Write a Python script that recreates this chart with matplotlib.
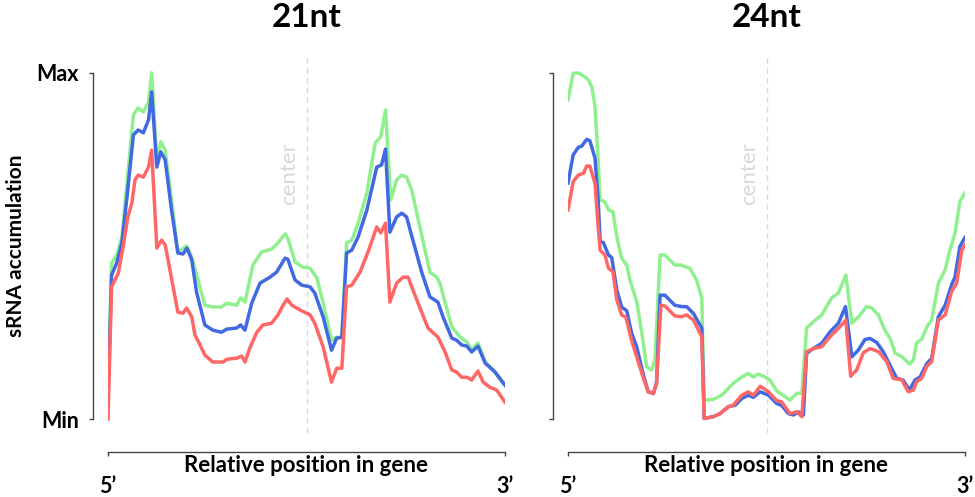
import numpy as np
import matplotlib
matplotlib.use('Agg')
import matplotlib.pyplot as plt

plt.rcParams['font.family'] = ['Lato', 'DejaVu Sans']

# ---- 21nt panel (position in gene %, scaled accumulation 0=Min 100=Max) ----
x21_green = [0, 0.9, 2.2, 3.5, 6.4, 7.6, 8.9, 10.2, 11.0, 12.3, 13.3, 14.4, 16.0, 17.6, 19.8, 21.1,
             22.7, 24.4, 26.4, 28.6, 29.9, 32.4, 33.4, 34.5, 36.5, 38.7, 41.2, 42.8, 44.6, 45.3, 47.1,
             49.1, 50.9, 52.6, 54.2, 56.3, 57.6, 58.9, 60.1, 61.4, 63.0, 65.2, 67.3, 68.7, 69.9, 71.2,
             72.7, 74.0, 75.2, 76.5, 79.0, 81.1, 82.8, 83.6, 86.6, 88.7, 90.4, 91.6, 93.2, 95.0, 97.0, 99.5]
y21_green = [7, 45.1, 47.4, 52.6, 87.9, 89.9, 88.7, 91.6, 100, 74.3, 80.1, 77.7, 63.3, 48.3, 50.0, 46.8,
             40.2, 32.9, 32.4, 32.4, 33.5, 32.9, 35.0, 33.8, 44.5, 48.3, 49.1, 50.9, 53.5, 52.3, 45.4,
             43.9, 43.6, 40.8, 33.5, 22.8, 23.7, 23.4, 50.9, 51.7, 56.6, 65.3, 79.8, 81.5, 89.3, 63.3,
             69.1, 70.5, 69.9, 66.2, 53.2, 42.5, 41.0, 39.3, 26.6, 23.7, 22.3, 19.9, 22.0, 16.5, 14.2, 10.4]

x21_blue = [0, 0.9, 2.2, 3.5, 4.7, 6.4, 7.6, 8.9, 10.2, 11.0, 12.3, 13.3, 14.4, 16.0, 17.6, 18.9, 19.9,
            21.1, 22.3, 24.4, 26.4, 28.6, 29.9, 32.4, 33.4, 34.5, 36.2, 38.3, 40.8, 42.5, 44.6, 45.3,
            47.1, 48.8, 50.9, 52.1, 54.2, 56.3, 57.6, 58.9, 60.1, 61.4, 63.0, 65.2, 67.7, 68.9, 69.9,
            71.0, 72.7, 74.0, 75.2, 76.8, 79.0, 81.1, 83.1, 84.4, 86.6, 87.8, 89.1, 90.4, 91.6, 93.2,
            95.0, 97.5, 100]
y21_blue = [6.4, 41.6, 45.1, 50.9, 63.3, 82.1, 83.5, 82.7, 86.4, 94.5, 72.8, 77.2, 74.9, 60.4, 48.0, 47.7, 49.4,
            46.0, 36.7, 27.2, 25.7, 25.1, 26.0, 26.3, 27.2, 25.7, 33.5, 39.3, 41.0, 42.5, 46.5, 46.2,
            40.2, 38.7, 38.2, 36.4, 29.5, 19.9, 23.4, 23.7, 48.0, 48.8, 52.6, 60.4, 72.8, 73.4, 78.0,
            54.0, 58.4, 59.5, 58.4, 51.7, 42.5, 35.3, 33.8, 29.5, 23.4, 22.8, 21.4, 21.1, 19.4, 21.1,
            16.2, 13.6, 9.8]

x21_red = [0, 0.9, 2.6, 3.8, 5.0, 6.0, 6.8, 7.6, 8.9, 10.2, 11.0, 12.3, 13.5, 14.4, 15.6, 17.6, 18.9,
           19.8, 21.1, 21.9, 23.2, 24.4, 26.4, 29.0, 29.9, 32.4, 33.7, 34.5, 35.8, 37.5, 39.0, 41.2,
           42.8, 44.1, 45.1, 46.3, 48.4, 50.9, 52.1, 54.2, 56.3, 57.6, 58.9, 60.1, 61.4, 63.5, 65.5,
           67.7, 68.7, 69.9, 71.0, 72.7, 74.3, 75.6, 76.8, 78.6, 80.6, 83.1, 84.9, 86.6, 87.8, 89.1,
           90.4, 91.6, 93.2, 94.5, 96.2, 97.9, 100]
y21_red = [0, 38.2, 42.2, 49.7, 58.4, 62.4, 69.1, 70.5, 69.9, 72.8, 77.7, 49.4, 51.7, 50.3, 43.1, 30.9, 30.6,
           32.1, 29.5, 24.3, 21.4, 18.5, 16.5, 16.5, 17.3, 17.6, 18.2, 16.5, 20.8, 25.1, 27.2, 27.7,
           30.1, 32.9, 34.7, 32.9, 31.5, 30.1, 27.7, 20.8, 10.7, 14.7, 14.7, 38.2, 38.7, 42.5, 48.3,
           55.5, 53.8, 56.6, 33.8, 39.3, 41.0, 41.0, 37.3, 32.1, 26.3, 23.7, 19.4, 14.2, 13.6, 12.1,
           12.1, 11.3, 13.9, 10.7, 9.2, 8.4, 4.9]

# ---- 24nt panel ----
x24_green = [0, 1.3, 2.6, 3.9, 5.1, 6.0, 6.8, 7.6, 8.1, 9.3, 10.2, 11.3, 12.3, 13.5, 14.8, 15.6, 17.3,
             18.6, 19.8, 21.1, 21.9, 23.2, 24.4, 26.9, 28.6, 29.5, 30.7, 32.4, 33.7, 34.3, 36.6, 38.7,
             40.0, 41.6, 43.8, 45.4, 46.7, 47.9, 49.6, 50.9, 52.6, 54.2, 55.9, 57.6, 58.9, 60.1, 61.8,
             63.9, 66.4, 68.1, 70.0, 71.5, 73.6, 75.2, 76.5, 78.2, 79.8, 81.1, 82.4, 84.1, 86.1, 87.0,
             87.8, 89.1, 90.4, 91.6, 93.3, 95.0, 96.2, 97.5, 98.7, 100]
y24_green = [92.2, 99.9, 100, 99.1, 98.0, 96.0, 90.3, 74.9, 63.3, 62.8, 60.4, 59.9, 52.7, 46.5, 44.5, 40.2, 33.9,
             24.9, 15.1, 14.2, 17.1, 47.4, 47.4, 44.5, 44.5, 44.0, 43.6, 40.2, 35.0, 5.5, 5.7, 6.9,
             8.4, 10.3, 12.2, 13.2, 12.2, 13.0, 12.2, 11.3, 8.1, 6.9, 5.5, 7.4, 7.5, 26.3, 28.1,
             30.1, 35.0, 36.4, 41.6, 27.7, 30.1, 32.5, 32.1, 30.1, 25.7, 23.4, 19.1, 18.0, 15.9, 17.1,
             22.0, 23.1, 26.7, 28.6, 39.3, 43.1, 48.8, 53.8, 62.8, 65.4]

x24_blue = [0, 1.3, 2.6, 3.5, 4.7, 5.5, 6.8, 7.6, 8.1, 8.9, 10.2, 11.0, 12.3, 13.5, 14.8, 16.0, 17.3,
            19.0, 20.2, 21.5, 22.3, 23.2, 24.4, 26.9, 28.6, 29.9, 31.6, 33.7, 34.3, 36.6, 38.3, 40.4,
            42.1, 43.8, 45.4, 46.7, 48.4, 50.5, 52.6, 53.8, 55.5, 56.8, 58.0, 59.3, 60.1, 61.8, 63.9,
            66.0, 68.1, 69.9, 71.5, 73.1, 74.8, 76.1, 77.8, 79.4, 81.1, 82.8, 84.4, 86.0, 87.4, 88.7,
            90.4, 91.6, 93.3, 95.0, 96.6, 97.5, 98.7, 100]
y24_blue = [68.2, 76.3, 78.5, 78.9, 80.8, 80.4, 75.4, 63.3, 51.2, 51.0, 47.4, 46.7, 37.3, 32.4, 31.3, 24.9, 20.9,
            12.7, 7.9, 7.4, 10.4, 35.8, 35.8, 32.9, 32.5, 32.5, 30.5, 26.3, 0.2, 0.7, 1.6, 3.6,
            4.0, 6.0, 6.9, 6.3, 7.9, 6.9, 4.5, 4.0, 1.6, 1.2, 2.1, 1.2, 19.0, 20.4, 21.9,
            25.2, 27.7, 32.5, 18.0, 19.9, 23.0, 23.3, 22.1, 19.5, 15.6, 11.8, 11.3, 8.4, 11.3, 12.2,
            16.1, 17.5, 29.6, 32.9, 38.7, 41.1, 49.8, 52.5]

x24_red = [0, 1.3, 2.6, 3.9, 4.7, 5.5, 6.8, 7.6, 8.1, 9.3, 10.2, 11.3, 12.3, 13.5, 14.6, 16.0, 17.3,
           19.0, 20.2, 21.5, 22.3, 23.4, 24.4, 26.9, 28.6, 29.9, 31.6, 33.7, 34.3, 36.6, 38.3, 40.4,
           41.6, 43.8, 45.4, 46.7, 48.4, 50.5, 52.6, 53.8, 55.9, 57.6, 58.9, 60.1, 61.8, 63.9, 66.0,
           68.1, 70.0, 71.2, 72.7, 74.4, 76.1, 78.2, 80.3, 81.9, 84.1, 85.7, 87.0, 87.8, 89.1, 90.4,
           91.6, 93.3, 95.0, 96.6, 97.9, 99.2, 100]
y24_red = [60.4, 68.6, 70.5, 71.0, 73.1, 73.1, 68.1, 55.6, 48.8, 47.4, 43.6, 42.6, 34.4, 30.1, 29.4, 22.8, 18.0,
           11.8, 7.9, 7.4, 10.3, 32.9, 32.7, 29.8, 29.6, 30.1, 28.6, 23.8, 0.2, 0.7, 1.6, 3.6,
           4.0, 6.9, 7.9, 6.9, 9.5, 7.9, 5.3, 5.0, 1.6, 2.1, 0.7, 19.5, 20.4, 20.9, 23.8,
           26.2, 28.6, 12.4, 14.2, 19.2, 20.4, 19.5, 16.6, 11.8, 11.3, 7.9, 8.4, 10.8, 11.8, 15.3,
           16.6, 28.6, 30.1, 36.8, 39.2, 48.8, 50.3]

titles = ['21nt', '24nt']
xticklabels = ['5\u2019', '3\u2019']
yticklabels = ['Min', 'Max']

panels = [(x21_green, y21_green, x21_blue, y21_blue, x21_red, y21_red),
          (x24_green, y24_green, x24_blue, y24_blue, x24_red, y24_red)]

c_green = '#90f090'
c_blue = '#4169e1'
c_red = '#ff6666'
c_grey = '#d9d9d9'

fig = plt.figure(figsize=(9.75, 4.97), dpi=100)
lefts = [108/975., 568/975.]

for i in range(2):
    ax = fig.add_axes([lefts[i], 64/497., 397/975., 375/497.])
    xg, yg, xb, yb, xr, yr = panels[i]
    ax.axvline(50, color=c_grey, linestyle='--', linewidth=1.0, dashes=(4, 3), zorder=1)
    ax.text(45.5, 71, 'center', rotation=90, color=c_grey, fontsize=16,
            ha='center', va='center')
    ax.plot(xg, yg, color=c_green, linewidth=2.5, zorder=2)
    ax.plot(xb, yb, color=c_blue, linewidth=2.5, zorder=3)
    ax.plot(xr, yr, color=c_red, linewidth=2.5, zorder=4)

    ax.set_xlim(0, 100)
    ax.set_ylim(-4, 104.3)
    for s in ['top', 'right']:
        ax.spines[s].set_visible(False)
    ax.spines['left'].set_position(('outward', 10.8))
    ax.spines['bottom'].set_position(('outward', 13.7))
    ax.spines['left'].set_bounds(0, 100)
    ax.spines['bottom'].set_bounds(0, 100)
    for s in ['left', 'bottom']:
        ax.spines[s].set_color('#444444')
        ax.spines[s].set_linewidth(1.0)

    ax.set_xticks([0, 100])
    ax.set_xticklabels(xticklabels, fontsize=15.5, fontweight='bold')
    ax.tick_params(axis='x', length=3, width=1, color='#444444', pad=14)
    ax.set_yticks([0, 100])
    if i == 0:
        ax.set_yticklabels(yticklabels, fontsize=15.5, fontweight='bold')
        ax.text(-0.232, 0.5, 'sRNA accumulation', rotation=90, fontsize=15,
                fontweight='bold', ha='center', va='center', transform=ax.transAxes)
    else:
        ax.set_yticklabels([])
    ax.tick_params(axis='y', length=3, width=1, color='#444444', pad=7)

    ax.text(0.5, -0.088, 'Relative position in gene', fontsize=16, fontweight='bold',
            ha='center', va='center', transform=ax.transAxes)
    ax.text(0.5, 1.107, titles[i], fontsize=24, fontweight='bold',
            ha='center', va='center', transform=ax.transAxes)

plt.savefig('out.png', dpi=100)
